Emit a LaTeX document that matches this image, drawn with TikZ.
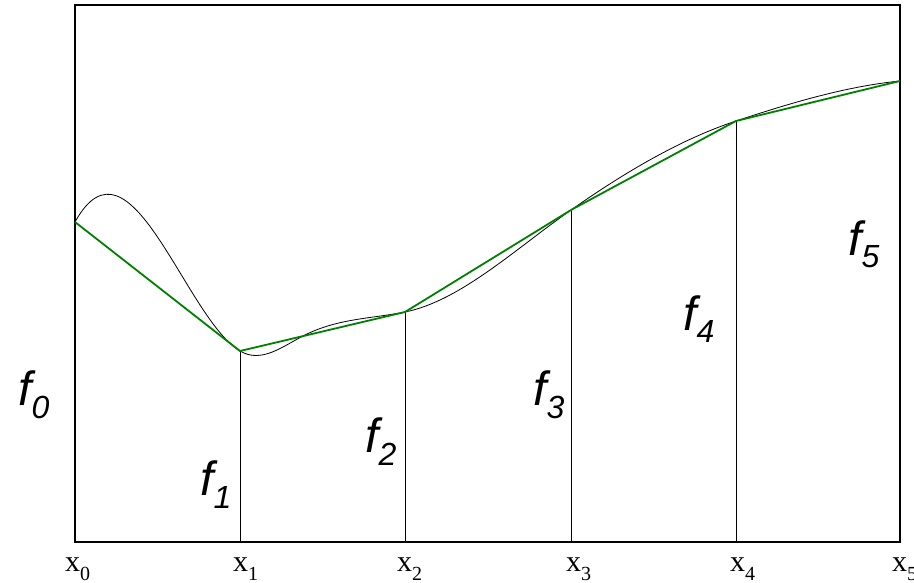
\documentclass[tikz,border=0pt]{standalone}
\usepackage{fontspec}
\newfontfamily\labsans{Liberation Sans}
\newfontfamily\labserif{Liberation Serif}

% labels: f_i (sans italic) and x_i (serif)
\newcommand{\fval}[1]{{\labsans\itshape\fontsize{48}{48}\selectfont f\raisebox{-13pt}{\fontsize{32}{32}\selectfont #1}}}
\newcommand{\xval}[1]{{\labserif\fontsize{30}{30}\selectfont x\raisebox{-9pt}{\fontsize{20}{20}\selectfont #1}}}

\begin{document}
\begin{tikzpicture}[x=1pt,y=-1pt,
    func/.style={line width=0.8pt},
    interp/.style={line width=1.8pt,green!50!black},
    ordinate/.style={line width=0.8pt},
    lab/.style={inner sep=0pt,anchor=base west}]
  \useasboundingbox (0,0) rectangle (914,583);
  % knots of the interpolation
  \coordinate (k0) at (75,222);
  \coordinate (k1) at (240,351);
  \coordinate (k2) at (405,312);
  \coordinate (k3) at (571,210);
  \coordinate (k4) at (736,121);
  \coordinate (k5) at (900,81);
  % feet on the axis
  \coordinate (b1) at (240,542);
  \coordinate (b2) at (405,542);
  \coordinate (b3) at (571,542);
  \coordinate (b4) at (736,542);
  \draw[line width=1.1pt] (75,5) rectangle (900,542);
  \foreach \i in {1,...,4}
    \draw[ordinate] (k\i) -- (b\i);
  % the function
  \draw[func] (k0) .. controls (130,123) and (185,318) .. (k1)
    .. controls (261.7,364) and (283.3,345.8) .. (305,335)
    .. controls (338.3,318.3) and (371.7,318.7) .. (k2)
    .. controls (460.3,300.9) and (515.7,248.7) .. (k3)
    .. controls (626,171.5) and (681,139.2) .. (k4)
    .. controls (790.7,103) and (845.3,86.5) .. (k5);
  % linear interpolant
  \draw[interp] (k0) -- (k1) -- (k2) -- (k3) -- (k4) -- (k5);
  % values
  \node[lab] (f0) at (18,405) {\fval{0}};
  \node[lab] (f1) at (200,495) {\fval{1}};
  \node[lab] (f2) at (365,452) {\fval{2}};
  \node[lab] (f3) at (533,405) {\fval{3}};
  \node[lab] (f4) at (683,330) {\fval{4}};
  \node[lab] (f5) at (848,255) {\fval{5}};
  % abscissae
  \node[lab] (x0) at (65,571) {\xval{0}};
  \node[lab] (x1) at (233,571) {\xval{1}};
  \node[lab] (x2) at (397,571) {\xval{2}};
  \node[lab] (x3) at (566,571) {\xval{3}};
  \node[lab] (x4) at (730,571) {\xval{4}};
  \node[lab] (x5) at (892,571) {\xval{5}};
\end{tikzpicture}
\end{document}
